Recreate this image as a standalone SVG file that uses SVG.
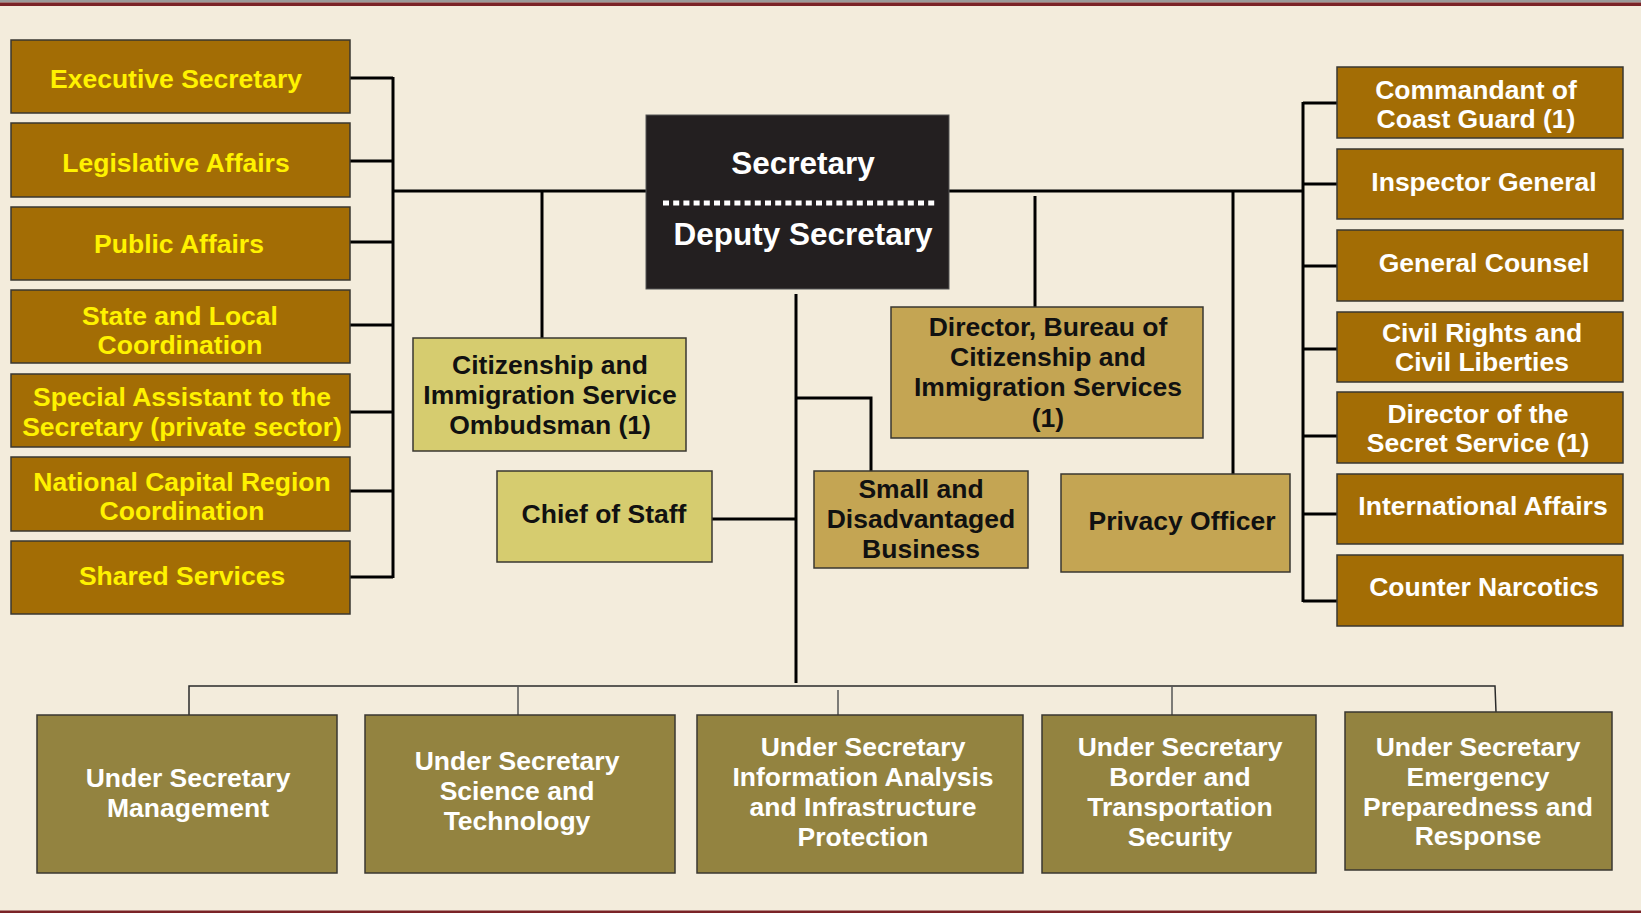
<svg xmlns="http://www.w3.org/2000/svg" width="1641" height="913" viewBox="0 0 1641 913">
<style>
text{font-family:"Liberation Sans",Arial,sans-serif;font-weight:bold;font-size:26.5px;text-anchor:middle}
.box{stroke:#3a3731;stroke-width:1.5}
.staff{fill:#A36D05}
.lt{fill:#FFF200}
.rt{fill:#FFFFFF}
.oly{fill:#D6CC6F}
.gold{fill:#C4A553}
.bot{fill:#938340}
.dk{fill:#111}
.conn{stroke:#000;stroke-width:3;fill:none}
.thin{stroke:#2a2a2a;stroke-width:1.5;fill:none}
.drop{stroke:#555;stroke-width:1.5;fill:none}
</style>
<rect x="0" y="0" width="1641" height="913" fill="#F3ECDC"/>
<rect x="0" y="0" width="1641" height="2.5" fill="#9a9a9a"/>
<rect x="0" y="2.5" width="1641" height="3.5" fill="#7A2327"/>
<rect x="0" y="910.5" width="1641" height="2.5" fill="#7A2327"/>

<g id="connectors">
  <path class="conn" d="M350 78H393M350 161H393M350 242H393M350 325H393M350 412H393M350 491H393M350 577H393M393 77V578"/>
  <path class="conn" d="M393 191H646"/>
  <path class="conn" d="M542 191V338"/>
  <path class="conn" d="M949 191H1303"/>
  <path class="conn" d="M1035 196V307"/>
  <path class="conn" d="M1233 191V474"/>
  <path class="conn" d="M1303 102V602M1303 103H1337M1303 184H1337M1303 266H1337M1303 349H1337M1303 436H1337M1303 514H1337M1303 601H1337"/>
  <path class="conn" d="M796 294V683"/>
  <path class="conn" d="M712 519H796"/>
  <path class="conn" d="M796 398H871V471"/>
  <path class="thin" d="M189 715V686H1495L1496 712"/>
  <path class="drop" d="M518 686V715M838 690V715M1172 686V715"/>
</g>

<g id="executive-secretary"><rect class="box staff" x="11" y="40" width="339" height="73"/><text class="lt" x="176" y="88">Executive Secretary</text></g>
<g id="legislative-affairs"><rect class="box staff" x="11" y="123" width="339" height="74"/><text class="lt" x="176" y="172">Legislative Affairs</text></g>
<g id="public-affairs"><rect class="box staff" x="11" y="207" width="339" height="73"/><text class="lt" x="179" y="253">Public Affairs</text></g>
<g id="state-local"><rect class="box staff" x="11" y="290" width="339" height="73"/><text class="lt" x="180" y="325">State and Local</text><text class="lt" x="180" y="354">Coordination</text></g>
<g id="special-assistant"><rect class="box staff" x="11" y="374" width="339" height="73"/><text class="lt" x="182" y="406">Special Assistant to the</text><text class="lt" x="182" y="436">Secretary (private sector)</text></g>
<g id="national-capital"><rect class="box staff" x="11" y="457" width="339" height="74"/><text class="lt" x="182" y="491">National Capital Region</text><text class="lt" x="182" y="520">Coordination</text></g>
<g id="shared-services"><rect class="box staff" x="11" y="541" width="339" height="73"/><text class="lt" x="182" y="585">Shared Services</text></g>

<g id="secretary">
  <rect x="646" y="115" width="303" height="174" fill="#231F20" stroke="#555" stroke-width="1"/>
  <text x="803" y="174" fill="#fff" style="font-size:31.5px">Secretary</text>
  <line x1="663" y1="203" x2="937" y2="203" stroke="#fff" stroke-width="5" stroke-dasharray="6 4.2"/>
  <text x="803" y="245" fill="#fff" style="font-size:31.5px">Deputy Secretary</text>
</g>

<g id="ombudsman"><rect class="box oly" x="413" y="338" width="273" height="113"/><text class="dk" x="550" y="374">Citizenship and</text><text class="dk" x="550" y="404">Immigration Service</text><text class="dk" x="550" y="434">Ombudsman (1)</text></g>
<g id="chief-of-staff"><rect class="box oly" x="497" y="471" width="215" height="91"/><text class="dk" x="604" y="523">Chief of Staff</text></g>
<g id="director-cis"><rect class="box gold" x="891" y="307" width="312" height="131"/><text class="dk" x="1048" y="336">Director, Bureau of</text><text class="dk" x="1048" y="366">Citizenship and</text><text class="dk" x="1048" y="396">Immigration Services</text><text class="dk" x="1048" y="427">(1)</text></g>
<g id="small-business"><rect class="box gold" x="814" y="471" width="214" height="97"/><text class="dk" x="921" y="498">Small and</text><text class="dk" x="921" y="528">Disadvantaged</text><text class="dk" x="921" y="558">Business</text></g>
<g id="privacy-officer"><rect class="box gold" x="1061" y="474" width="229" height="98"/><text class="dk" x="1182" y="530">Privacy Officer</text></g>

<g id="coast-guard"><rect class="box staff" x="1337" y="67" width="286" height="71"/><text class="rt" x="1476" y="99">Commandant of</text><text class="rt" x="1476" y="128">Coast Guard (1)</text></g>
<g id="inspector-general"><rect class="box staff" x="1337" y="149" width="286" height="70"/><text class="rt" x="1484" y="191">Inspector General</text></g>
<g id="general-counsel"><rect class="box staff" x="1337" y="230" width="286" height="71"/><text class="rt" x="1484" y="272">General Counsel</text></g>
<g id="civil-rights"><rect class="box staff" x="1337" y="312" width="286" height="70"/><text class="rt" x="1482" y="342">Civil Rights and</text><text class="rt" x="1482" y="371">Civil Liberties</text></g>
<g id="secret-service"><rect class="box staff" x="1337" y="392" width="286" height="71"/><text class="rt" x="1478" y="423">Director of the</text><text class="rt" x="1478" y="452">Secret Service (1)</text></g>
<g id="international-affairs"><rect class="box staff" x="1337" y="474" width="286" height="70"/><text class="rt" x="1483" y="515">International Affairs</text></g>
<g id="counter-narcotics"><rect class="box staff" x="1337" y="555" width="286" height="71"/><text class="rt" x="1484" y="596">Counter Narcotics</text></g>

<g id="us-management"><rect class="box bot" x="37" y="715" width="300" height="158"/><text class="rt" x="188" y="787">Under Secretary</text><text class="rt" x="188" y="817">Management</text></g>
<g id="us-science"><rect class="box bot" x="365" y="715" width="310" height="158"/><text class="rt" x="517" y="770">Under Secretary</text><text class="rt" x="517" y="800">Science and</text><text class="rt" x="517" y="830">Technology</text></g>
<g id="us-information"><rect class="box bot" x="697" y="715" width="326" height="158"/><text class="rt" x="863" y="756">Under Secretary</text><text class="rt" x="863" y="786">Information Analysis</text><text class="rt" x="863" y="816">and Infrastructure</text><text class="rt" x="863" y="846">Protection</text></g>
<g id="us-border"><rect class="box bot" x="1042" y="715" width="274" height="158"/><text class="rt" x="1180" y="756">Under Secretary</text><text class="rt" x="1180" y="786">Border and</text><text class="rt" x="1180" y="816">Transportation</text><text class="rt" x="1180" y="846">Security</text></g>
<g id="us-emergency"><rect class="box bot" x="1345" y="712" width="267" height="158"/><text class="rt" x="1478" y="756">Under Secretary</text><text class="rt" x="1478" y="786">Emergency</text><text class="rt" x="1478" y="816">Preparedness and</text><text class="rt" x="1478" y="845">Response</text></g>
</svg>
